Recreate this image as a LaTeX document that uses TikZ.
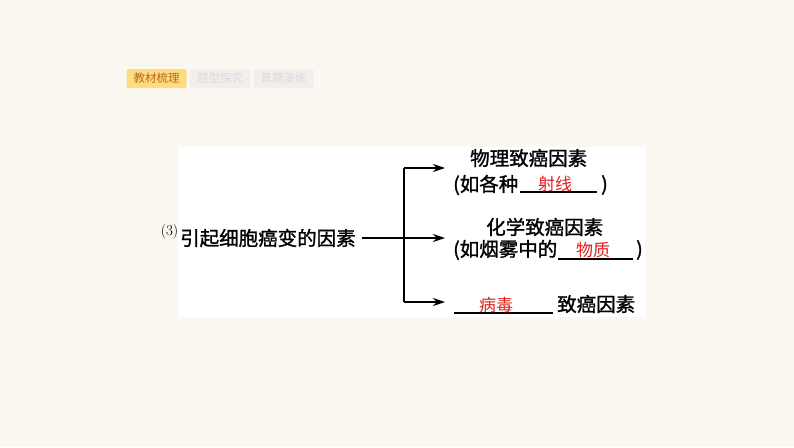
\documentclass[tikz,border=0pt]{standalone}
\usepackage{fontspec}
\newfontfamily\cjk[FakeBold=1.3]{Noto Sans CJK SC}
\newfontfamily\cjkans{Noto Sans CJK SC}
\usetikzlibrary{arrows.meta}
\definecolor{bgc}{HTML}{FBF8F1}
\definecolor{tabon}{HTML}{FCDC80}
\definecolor{tabontext}{HTML}{C0651A}
\definecolor{taboff}{HTML}{F0EFEC}
\definecolor{tabofftext}{HTML}{DADADA}
\definecolor{ans}{HTML}{E3201E}
\tikzset{
  txt/.style={inner sep=0pt, font=\cjk\fontsize{19.5}{20}\selectfont, text=black},
  anstxt/.style={inner sep=0pt, font=\cjkans\fontsize{17}{18}\selectfont, text=ans},
  tabbox/.style={inner sep=0pt, minimum width=60pt, minimum height=19pt, rounded corners=2pt, font=\cjkans\fontsize{11.5}{12}\selectfont},
  conn/.style={line width=1.5pt, draw=black},
  arr/.style={conn, -{Stealth[length=12pt,width=8pt]}},
  blank/.style={line width=1.1pt, draw=black}
}
\begin{document}
\begin{tikzpicture}[x=1pt,y=-1pt]
\path[use as bounding box, fill=bgc] (0,0) rectangle (794,447);
% tabs
\node[tabbox, fill=tabon, text=tabontext] (t1) at (156.5,78.5) {教材梳理};
\node[tabbox, fill=taboff, text=tabofftext] (t2) at (220,78.5) {题型探究};
\node[tabbox, fill=taboff, text=tabofftext] (t3) at (283.5,78.5) {真题演练};
% white panel
\fill[white] (178,147) rectangle (645,317);
% main
\node[inner sep=0pt, font=\fontsize{15}{15}\selectfont, anchor=east] (num) at (178.5,232) {(3)};
\node[txt, anchor=west] (main) at (180,238) {引起细胞癌变的因素};
\coordinate (br) at (404,238);
\coordinate (top) at (404,168);
\coordinate (bot) at (404,302);
\coordinate (tipT) at (445,168);
\coordinate (tipM) at (445,238);
\coordinate (tipB) at (445,302);
\draw[conn] (top) -- (bot);
\draw[arr] (main.east) ++(6,0) -- (tipM);
\draw[arr] (top) -- (tipT);
\draw[arr] (bot) -- (tipB);
% top branch
\node[txt, anchor=west] (phy) at (470,158) {物理致癌因素};
\node[txt, anchor=west] (phy2) at (453,185) {(如各种};
\coordinate (u1a) at (520,192);
\coordinate (u1b) at (597,192);
\draw[blank] (u1a) -- (u1b);
\node[anstxt] (a1) at (555,184) {射线};
\node[txt, anchor=west] (p1) at (601,185) {)};
% middle branch
\node[txt, anchor=west] (chem) at (486,227) {化学致癌因素};
\node[txt, anchor=west] (chem2) at (453,250) {(如烟雾中的};
\coordinate (u2a) at (558,259);
\coordinate (u2b) at (633,259);
\draw[blank] (u2a) -- (u2b);
\node[anstxt] (a2) at (593,250) {物质};
\node[txt, anchor=west] (p2) at (636,250) {)};
% bottom branch
\coordinate (u3a) at (454,313);
\coordinate (u3b) at (553,313);
\draw[blank] (u3a) -- (u3b);
\node[anstxt] (a3) at (496,305) {病毒};
\node[txt, anchor=west] (bio) at (557,304) {致癌因素};
\end{tikzpicture}
\end{document}
